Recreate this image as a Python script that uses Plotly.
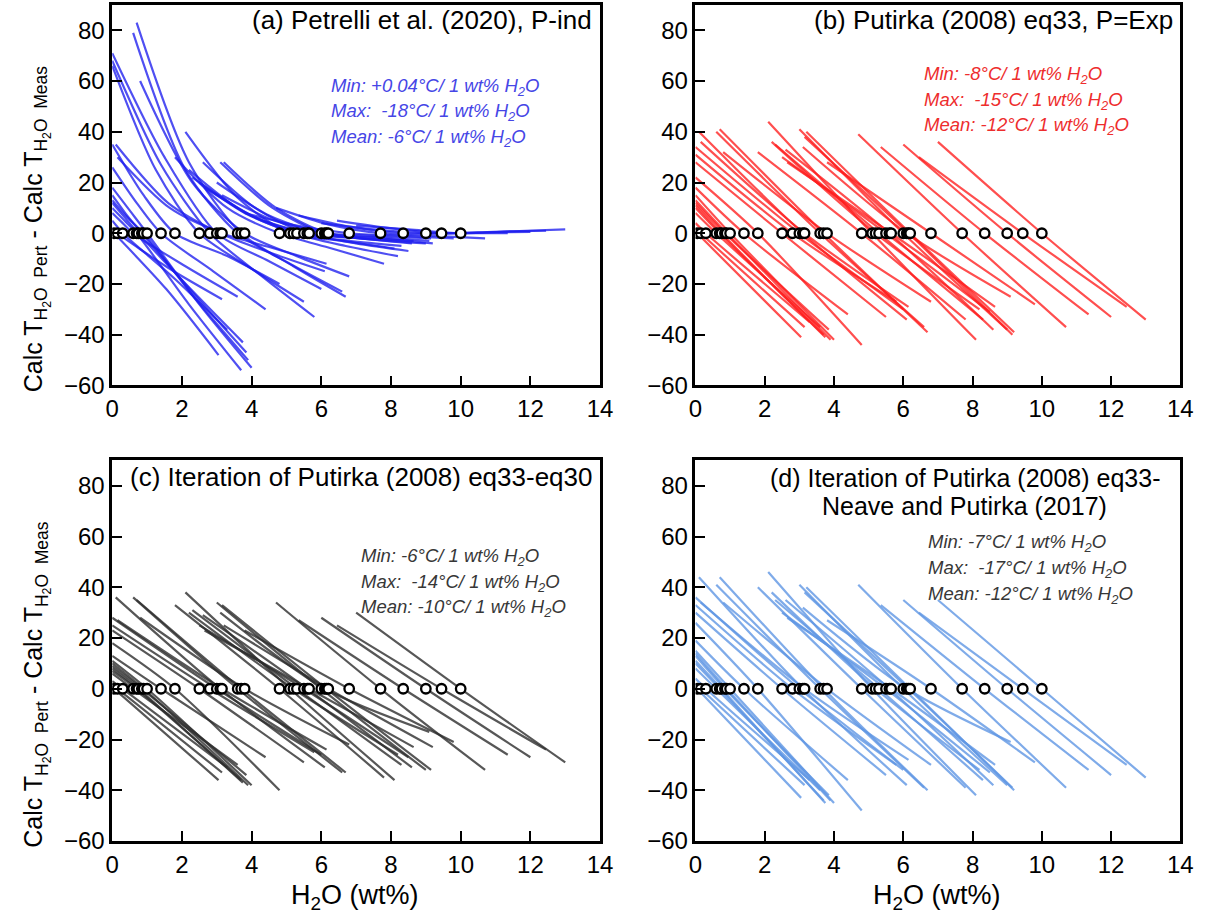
import plotly.graph_objects as go

# ---------------- data ----------------
# measured H2O (wt%) of each experiment: open circles at y=0
h2o_meas = [0.05, 0.15, 0.3, 0.6, 0.7, 0.75, 0.85, 0.9, 1.0, 1.4, 1.8, 2.5,
            2.8, 3.0, 3.1, 3.15, 3.6, 3.7, 3.8, 4.8, 5.1, 5.2, 5.3, 5.5,
            5.6, 5.65, 6.0, 6.1, 6.15, 6.2, 6.8, 7.7, 8.35, 9.0, 9.45, 10.0]
# each line spans measured H2O -/+ this perturbation (clipped at 0 wt%)
perturbation_wt = 3.0

# (a) Petrelli et al. (2020): curved lines -> start, left-mid, right-mid, end
a_y_start = [0.5, 2, 5, 8, 10, 12, 15, 13, 18, 26, 35, 66,
             68, 71, 35, 30, 79, 83, 60, 30, 40, 25, 22, 20,
             28, 18, 20, 28, 15, 28, 8, 10, 7, 4, 5, 3]
a_y_q1 = [0.3, 1, 2.5, 4, 5, 6, 7, 6, 9, 12, 15, 25,
          27, 30, 12, 10, 25, 28, 20, 10, 14, 9, 8, 7,
          10, 6, 7, 10, 5, 10, 3, 3.5, 2.5, 1.5, 2, 1.5]
a_y_q3 = [-22, -14, -18, -13, -28, -22, -24, -26, -28, -15, -9, -14,
          -17, -11, -8, -6, -12, -13, -9, -6, -3, -5, -3, -4,
          -2, -2, -2.5, -1.5, -1, -2, -1, -1, 0, 0.3, 0.6, 0.8]
a_y_end = [-48, -26, -38, -25, -54, -43, -47, -50, -53, -30, -20, -27,
           -33, -22, -15, -12, -23, -25, -17, -12, -6, -9, -5, -7,
           -4, -3, -4, -3, -2, -4, -2, -2, 0, 0.5, 1, 1.5]

# (b) Putirka (2008) eq33, P=Exp
b_y_start = [0.7, 2, 4, 8, 10, 11, 12, 13, 15, 18, 22, 28,
             31, 34, 40, 36, 40, 41, 32, 32, 44, 36, 35, 30,
             33, 28, 41, 34, 38, 40, 28, 39, 34, 35, 30, 36]
b_y_end = [-41, -37, -35, -37, -40, -41, -38, -42, -42, -32, -44, -33,
           -27, -30, -34, -29, -37, -39, -27, -34, -42, -30, -34, -31,
           -38, -29, -38, -25, -40, -39, -28, -37, -32, -33, -29, -34]

# (c) Iteration of Putirka (2008) eq33-eq30
c_y_start = [0.5, 1.5, 3, 6, 7, 8, 9, 10, 11, 13, 18, 23,
             25, 28, 36, 27, 36, 35, 28, 33, 38, 30, 31, 25,
             29, 23, 34, 30, 33, 25, 23, 34, 27, 28, 25, 30]
c_y_end = [-36, -33, -31, -30, -36, -37, -34, -38, -38, -27, -40, -29,
           -25, -26, -31, -24, -33, -33, -22, -35, -36, -26, -30, -27,
           -31, -23, -32, -17, -32, -23, -21, -32, -26, -27, -24, -29]

# (d) Iteration of Putirka (2008) eq33 - Neave and Putirka (2017)
d_y_start = [0.7, 2, 4, 8, 10, 11, 13, 14, 15, 19, 26, 30,
             33, 36, 44, 34, 41, 44, 34, 40, 46, 38, 35, 30,
             35, 28, 41, 32, 38, 40, 27, 41, 33, 35, 30, 35]
d_y_end = [-43, -38, -36, -40, -44, -45, -42, -44, -45, -36, -48, -34,
           -30, -32, -38, -28, -39, -40, -30, -39, -42, -32, -36, -33,
           -38, -30, -38, -21, -39, -40, -29, -39, -32, -34, -30, -35]

panel_titles = [["(a) Petrelli et al. (2020), P-ind"],
                ["(b) Putirka (2008) eq33, P=Exp"],
                ["(c) Iteration of Putirka (2008) eq33-eq30"],
                ["(d) Iteration of Putirka (2008) eq33-", "Neave and Putirka (2017)"]]
stats_text = [
    ["Min: +0.04°C/ 1 wt% H<sub>2</sub>O", "Max: \u00a0-18°C/ 1 wt% H<sub>2</sub>O", "Mean: -6°C/ 1 wt% H<sub>2</sub>O"],
    ["Min: -8°C/ 1 wt% H<sub>2</sub>O", "Max: \u00a0-15°C/ 1 wt% H<sub>2</sub>O", "Mean: -12°C/ 1 wt% H<sub>2</sub>O"],
    ["Min: -6°C/ 1 wt% H<sub>2</sub>O", "Max: \u00a0-14°C/ 1 wt% H<sub>2</sub>O", "Mean: -10°C/ 1 wt% H<sub>2</sub>O"],
    ["Min: -7°C/ 1 wt% H<sub>2</sub>O", "Max: \u00a0-17°C/ 1 wt% H<sub>2</sub>O", "Mean: -12°C/ 1 wt% H<sub>2</sub>O"],
]
x_ticks = [0, 2, 4, 6, 8, 10, 12, 14]
y_ticks = [-60, -40, -20, 0, 20, 40, 60, 80]

# ---------------- styling / layout ----------------
W, H = 1215, 924
FONT = "Liberation Sans, Arial, sans-serif"
line_colors = ["rgba(30,30,238,0.78)", "rgba(255,30,30,0.78)",
               "rgba(45,45,45,0.8)", "rgba(95,150,228,0.8)"]
text_colors = ["rgb(70,70,230)", "rgb(238,45,45)", "rgb(55,55,55)", "rgb(55,55,55)"]

# plot-area pixel boxes: (left, right, top, bottom)
boxes = [(107, 603, 5, 391), (700, 1193, 5, 391),
         (107, 603, 467, 853), (700, 1193, 467, 853)]

fig = go.Figure()


def lo_hi(h):
    return max(0.0, h - perturbation_wt), h + perturbation_wt


def add_lines(k, ys_list):
    ax = "" if k == 0 else str(k + 1)
    for i, h in enumerate(h2o_meas):
        xl, xh = lo_hi(h)
        if len(ys_list) == 4:
            ys, q1, q3, ye = (ys_list[0][i], ys_list[1][i], ys_list[2][i], ys_list[3][i])
            xs = [xl, (xl + h) / 2, h, (h + xh) / 2, xh]
            yv = [ys, q1, 0, q3, ye]
            if xl == h:
                xs, yv = xs[2:], yv[2:]
        else:
            ys, ye = ys_list[0][i], ys_list[1][i]
            xs = [xl, h, xh]
            yv = [ys, 0, ye]
            if xl == h:
                xs, yv = xs[1:], yv[1:]
        fig.add_trace(go.Scatter(
            x=xs, y=yv, mode="lines",
            line=dict(color=line_colors[k], width=2.2, shape="spline", smoothing=0.8),
            xaxis="x" + ax, yaxis="y" + ax, showlegend=False, hoverinfo="skip"))
    fig.add_trace(go.Scatter(
        x=h2o_meas, y=[0] * len(h2o_meas), mode="markers",
        marker=dict(symbol="circle", size=9.5, color="white",
                    line=dict(color="black", width=2.3)),
        xaxis="x" + ax, yaxis="y" + ax, showlegend=False, hoverinfo="skip"))


add_lines(0, [a_y_start, a_y_q1, a_y_q3, a_y_end])
add_lines(1, [b_y_start, b_y_end])
add_lines(2, [c_y_start, c_y_end])
add_lines(3, [d_y_start, d_y_end])

axis_common = dict(showgrid=False, zeroline=False, showline=True, linecolor="black",
                   linewidth=2.5, mirror=True, ticks="inside", ticklen=10,
                   tickwidth=2, tickcolor="black",
                   tickfont=dict(family=FONT, size=24, color="black"))

layout = dict(width=W, height=H, margin=dict(l=0, r=0, t=0, b=0),
              paper_bgcolor="white", plot_bgcolor="white",
              font=dict(family=FONT, color="black"))
annotations = []
for k, (l, r, t, b) in enumerate(boxes):
    ax = "" if k == 0 else str(k + 1)
    layout["xaxis" + ax] = dict(axis_common, domain=[l / W, r / W], range=[0, 14],
                                tickvals=x_ticks, anchor="y" + ax)
    layout["yaxis" + ax] = dict(axis_common, domain=[1 - b / H, 1 - t / H], range=[-60, 90],
                                tickvals=y_ticks, anchor="x" + ax)

# panel titles (one annotation per text line)
title_pos = [(597, 20, "right", 26), (1188, 20, "right", 26),
             (597, 484, "right", 26), (974, 485, "center", 25)]
for k, (px, py, al, fs) in enumerate(title_pos):
    for j, line in enumerate(panel_titles[k]):
        annotations.append(dict(text=line, x=px / W, y=1 - (py + 28 * j) / H, xref="paper",
                                yref="paper", xanchor=al, yanchor="middle", showarrow=False,
                                font=dict(family=FONT, size=fs, color="black")))

# stats
stats_pos = [(327, 88), (930, 76), (358, 565), (934, 551)]
for k, (px, py) in enumerate(stats_pos):
    for j, s in enumerate(stats_text[k]):
        annotations.append(dict(text="<i>" + s + "</i>", x=px / W, y=1 - (py + 26 * j) / H,
                                xref="paper", yref="paper", xanchor="left", yanchor="middle",
                                showarrow=False,
                                font=dict(family=FONT, size=18.5, color=text_colors[k])))

# y-axis titles
ytitle = "Calc T<sub>H<sub>2</sub>O  Pert</sub> - Calc T<sub>H<sub>2</sub>O  Meas</sub>"
for yc in (232, 694):
    annotations.append(dict(text=ytitle, x=30 / W, y=1 - yc / H, xref="paper", yref="paper",
                            xanchor="center", yanchor="middle", textangle=-90, showarrow=False,
                            font=dict(family=FONT, size=25, color="black")))
# x-axis titles
for xc in (354, 946):
    annotations.append(dict(text="H<sub>2</sub>O (wt%)", x=xc / W, y=1 - 910 / H, xref="paper",
                            yref="paper", xanchor="center", yanchor="middle", showarrow=False,
                            font=dict(family=FONT, size=27, color="black")))

layout["annotations"] = annotations
fig.update_layout(**layout)
fig.write_html("out.html")
